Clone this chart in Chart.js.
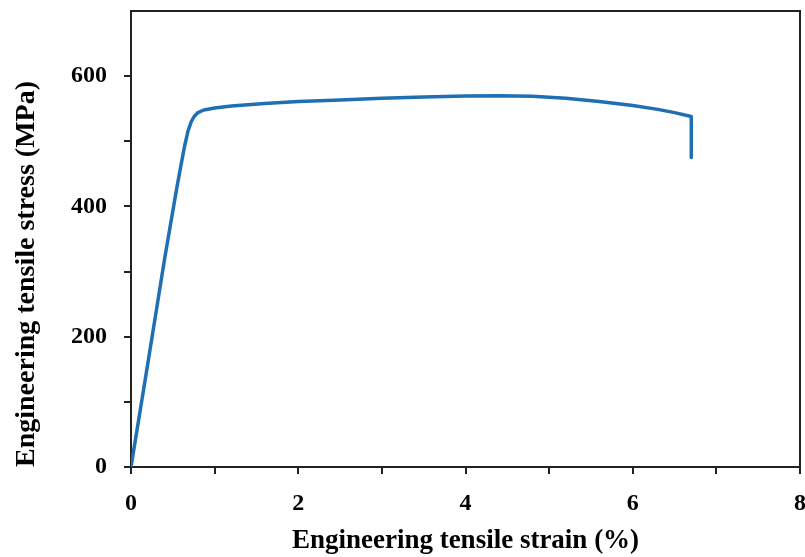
<!DOCTYPE html>
<html>
<head>
<meta charset="utf-8">
<script src="https://cdn.jsdelivr.net/npm/chart.js@4/dist/chart.umd.min.js"></script>
<style>
  html, body { margin: 0; padding: 0; background: #fff; }
  #wrap { width: 805px; height: 557px; }
</style>
</head>
<body>
<div id="wrap"><canvas id="chart"></canvas></div>
<script>
// 応力-ひずみ曲線のデータ
const strain = [0, 0.1, 0.2, 0.3, 0.4, 0.5, 0.55, 0.6, 0.64, 0.68, 0.72, 0.76, 0.8, 0.87, 1.0, 1.2, 1.6, 2.0, 2.5, 3.0, 3.5, 4.0, 4.4, 4.8, 5.2, 5.6, 6.0, 6.3, 6.5, 6.7, 6.7];
const stress = [0, 79, 158, 238, 318, 393, 430, 465, 492, 515, 530, 539, 544, 548, 551, 554, 558, 561, 563.5, 566, 568, 569.5, 570, 569, 566, 561, 555, 549, 544, 538, 475];
const xLabels = [0, 2, 4, 6, 8];
const yLabels = [0, 200, 400, 600];

const font = "'Liberation Serif', 'Times New Roman', serif";

// 上と右の枠線
const framePlugin = {
    id: 'frame',
    afterDraw(chart) {
        const a = chart.chartArea;
        const c = chart.ctx;
        c.save();
        c.strokeStyle = '#222';
        c.lineWidth = 2;
        c.beginPath();
        c.moveTo(a.left, a.top);
        c.lineTo(a.right, a.top);
        c.lineTo(a.right, a.bottom);
        c.stroke();
        c.restore();
    }
};

window.addEventListener("load", ()=>{
    const ctx = document.getElementById('chart');
    new Chart(ctx, {
        type: 'scatter',
        data: {
            datasets: [{
                data: strain.map((x, i)=>({x: x, y: stress[i]})),
                showLine: true,
                borderColor: '#1f6fb4',
                borderWidth: 3.5,
                borderJoinStyle: 'round',
                borderCapStyle: 'round',
                pointRadius: 0,
                tension: 0
            }]
        },
        options: {
            animation: false,
            responsive: true,
            maintainAspectRatio: false,
            layout: { padding: { top: 11, right: 5, left: 0, bottom: 0 } },
            plugins: {
                legend: { display: false },
                tooltip: { enabled: false }
            },
            scales: {
                x: {
                    type: 'linear',
                    min: 0,
                    max: 8,
                    afterFit: (s)=>{ s.height = 90; s.paddingLeft = 0; s.paddingRight = 0; },
                    border: { color: '#222', width: 2 },
                    grid: { drawOnChartArea: false, color: '#222', lineWidth: 2, tickLength: 7 },
                    ticks: {
                        stepSize: 1,
                        padding: 15,
                        color: '#000',
                        font: { family: font, size: 24, weight: 'bold' },
                        callback: (v)=> xLabels.includes(v) ? String(v) : ''
                    },
                    title: {
                        display: true,
                        text: 'Engineering tensile strain (%)',
                        color: '#000',
                        font: { family: font, size: 27, weight: 'bold' },
                        padding: { top: 0, bottom: 0 }
                    }
                },
                y: {
                    type: 'linear',
                    min: 0,
                    max: 700,
                    afterFit: (s)=>{ s.width = 131; s.paddingTop = 0; s.paddingBottom = 0; },
                    border: { color: '#222', width: 2 },
                    grid: {
                        drawOnChartArea: false,
                        color: (c)=> c.tick && c.tick.value === 700 ? 'rgba(0,0,0,0)' : '#222',
                        lineWidth: 2,
                        tickLength: 7
                    },
                    ticks: {
                        stepSize: 100,
                        padding: 17,
                        color: '#000',
                        font: { family: font, size: 24, weight: 'bold' },
                        callback: (v)=> yLabels.includes(v) ? String(v) : ''
                    },
                    title: {
                        display: true,
                        text: 'Engineering tensile stress (MPa)',
                        align: 'start',
                        color: '#000',
                        font: { family: font, size: 28, weight: 'bold' },
                        padding: { top: 10, bottom: 0 }
                    }
                }
            }
        },
        plugins: [framePlugin]
    });
});
</script>
</body>
</html>
